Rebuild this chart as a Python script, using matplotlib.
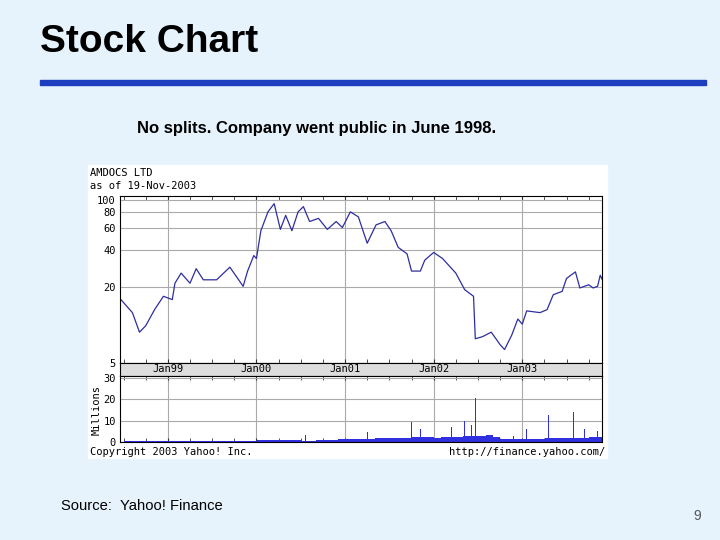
import numpy as np
import matplotlib.pyplot as plt
from matplotlib.patches import Rectangle

# price waypoints (decimal year, price $)
price_t = [1998.47, 1998.6, 1998.68, 1998.75, 1998.85, 1998.95, 1999.05, 1999.08, 1999.15, 1999.25,
           1999.32, 1999.4, 1999.55, 1999.7, 1999.85, 1999.9, 1999.97, 2000.0, 2000.05, 2000.13,
           2000.2, 2000.27, 2000.33, 2000.4, 2000.47, 2000.53, 2000.6, 2000.7, 2000.8, 2000.9,
           2000.97, 2001.06, 2001.15, 2001.25, 2001.35, 2001.45, 2001.52, 2001.6, 2001.7, 2001.75,
           2001.85, 2001.9, 2002.0, 2002.1, 2002.25, 2002.35, 2002.45, 2002.47, 2002.55, 2002.65,
           2002.75, 2002.8, 2002.88, 2002.95, 2003.0, 2003.05, 2003.2, 2003.28, 2003.35, 2003.45,
           2003.5, 2003.6, 2003.65, 2003.75, 2003.8, 2003.85, 2003.88, 2003.9]
price_v = [16, 12.6, 8.8, 9.9, 13.3, 17, 16, 21.6, 26, 21.6,
           28.2, 23, 23, 29, 20.4, 27, 35.9, 34, 56.6, 80,
           93, 58, 75, 56.6, 80, 88, 67, 71, 58, 67,
           60, 80, 73, 45, 63, 67, 56.6, 41.7, 37, 27,
           27, 33, 38, 34, 26, 19.2, 17, 7.8, 8.1, 8.8,
           7, 6.4, 8.3, 11.2, 10.2, 13, 12.6, 13.3, 17.5, 18.6,
           23.6, 26.6, 19.8, 21, 19.8, 20.4, 25, 23.3]

# monthly baseline volume (millions), Jun 1998 .. Nov 2003
vol_month = [0.2, 0.3, 0.3, 0.3, 0.3, 0.3, 0.3, 0.3, 0.3, 0.3, 0.4, 0.4, 0.4, 0.4, 0.5, 0.5, 0.5, 0.5, 0.5,
             0.8, 1.0, 0.9, 0.8, 0.8, 0.8, 0.7, 0.7, 0.8, 0.8, 1.0, 1.2, 1.3,
             1.5, 1.6, 1.6, 1.7, 1.8, 1.8, 1.9, 2.0, 2.2, 2.5, 2.2, 2.0,
             2.3, 2.4, 2.5, 2.6, 2.8, 3.0, 3.2, 2.5, 1.5, 1.2, 1.3, 1.4,
             1.5, 1.6, 1.7, 1.8, 2.0, 2.0, 2.1, 2.0, 2.2, 2.2]
spike_t = [1998.72, 1999.43, 1999.77, 2000.55, 2001.25, 2001.53, 2001.75, 2001.85, 2002.2,
           2002.35, 2002.43, 2002.47, 2002.9, 2003.05, 2003.3, 2003.45, 2003.58, 2003.7, 2003.85]
spike_v = [1.5, 6.5, 7.5, 3.5, 4.5, 13, 9.5, 6, 7, 10, 8, 20.5, 3, 6, 12.5, 6, 14, 6, 5]

yr_labels = ["Jan99", "Jan00", "Jan01", "Jan02", "Jan03"]
yr_pos = [1999, 2000, 2001, 2002, 2003]

W, H = 720, 540
bg = "#E6F2FC"
fig = plt.figure(figsize=(7.2, 5.4), dpi=100, facecolor=bg)

def box(x0, y0, x1, y1):
    return [x0 / W, 1 - y1 / H, (x1 - x0) / W, (y1 - y0) / H]

fig.text(40 / W, 1 - 42 / H, "Stock Chart", fontsize=28, fontweight="bold",
         family="Liberation Sans", va="center")
fig.add_artist(Rectangle((40 / W, 1 - 85 / H), 666 / W, 5 / H, transform=fig.transFigure,
                         color="#1E3EC0"))
fig.text(317 / W, 1 - 129 / H, "No splits. Company went public in June 1998.", fontsize=12,
         fontweight="bold", family="Liberation Sans", ha="center", va="center")
fig.text(61 / W, 1 - 506 / H, "Source:  Yahoo! Finance", fontsize=10.6,
         family="Liberation Sans", va="center")
fig.text(697 / W, 1 - 516 / H, "9", fontsize=10, family="Liberation Sans",
         color="#555555", ha="center", va="center")

# white chart panel, behind the axes
fig.patches.append(Rectangle((88 / W, 1 - 458 / H), 519 / W, 293 / H, transform=fig.transFigure,
                             color="white", zorder=-5))
mono = dict(family="DejaVu Sans Mono", fontsize=7.5)
fig.text(90 / W, 1 - 173 / H, "AMDOCS LTD", va="center", **mono)
fig.text(90 / W, 1 - 186 / H, "as of 19-Nov-2003", va="center", **mono)
fig.text(90 / W, 1 - 452 / H, "Copyright 2003 Yahoo! Inc.", va="center", **mono)
fig.text(605 / W, 1 - 452 / H, "http://finance.yahoo.com/", va="center", ha="right", **mono)

xlim = (1998.46, 2003.90)
quarters = np.arange(1998.5, 2003.9, 0.25)

ax = fig.add_axes(box(120, 196, 602, 363))
ax.plot(price_t, price_v, color="#2E2EA0", lw=0.9)
ax.set_yscale("log")
ax.set_ylim(5, 107)
ax.set_xlim(*xlim)
ax.set_yticks([5, 20, 40, 60, 80, 100])
ax.set_yticklabels(["5", "20", "40", "60", "80", "100"], **mono)
ax.yaxis.set_minor_locator(plt.NullLocator())
ax.set_xticks(yr_pos)
ax.set_xticklabels([])
ax.set_xticks(quarters, minor=True)
ax.tick_params(axis="x", which="both", direction="in", length=3, top=True, color="#333333")
ax.tick_params(axis="y", length=0, pad=3)
ax.grid(True, color="#AAAAAA", lw=0.8)

band = fig.add_axes(box(120, 363, 602, 376))
band.set_facecolor("#DDDDDD")
band.set_xlim(*xlim)
band.set_xticks([])
band.set_yticks([])
for lab, p in zip(yr_labels, yr_pos):
    band.text(p, 0.5, lab, ha="center", va="center", **mono)

vax = fig.add_axes(box(120, 376, 602, 442))
mt = 1998.42 + np.arange(len(vol_month)) / 12
vax.bar(mt, vol_month, width=1 / 12, align="edge", color="#3030E0")
vax.bar(spike_t, spike_v, width=0.008, color="#3030E0")
vax.set_xlim(*xlim)
vax.set_ylim(0, 31)
vax.set_yticks([0, 10, 20, 30])
vax.set_yticklabels(["0", "10", "20", "30"], **mono)
vax.set_xticks(yr_pos)
vax.set_xticklabels([])
vax.set_xticks(quarters, minor=True)
vax.tick_params(axis="x", which="both", direction="in", length=3, top=True, color="#333333")
vax.tick_params(axis="y", length=0, pad=3)
vax.grid(True, color="#AAAAAA", lw=0.8)
vax.set_axisbelow(True)
fig.text(97 / W, 1 - 410 / H, "Millions", rotation=90, ha="center", va="center", **mono)

fig.savefig("out.png", dpi=100, facecolor=bg)
